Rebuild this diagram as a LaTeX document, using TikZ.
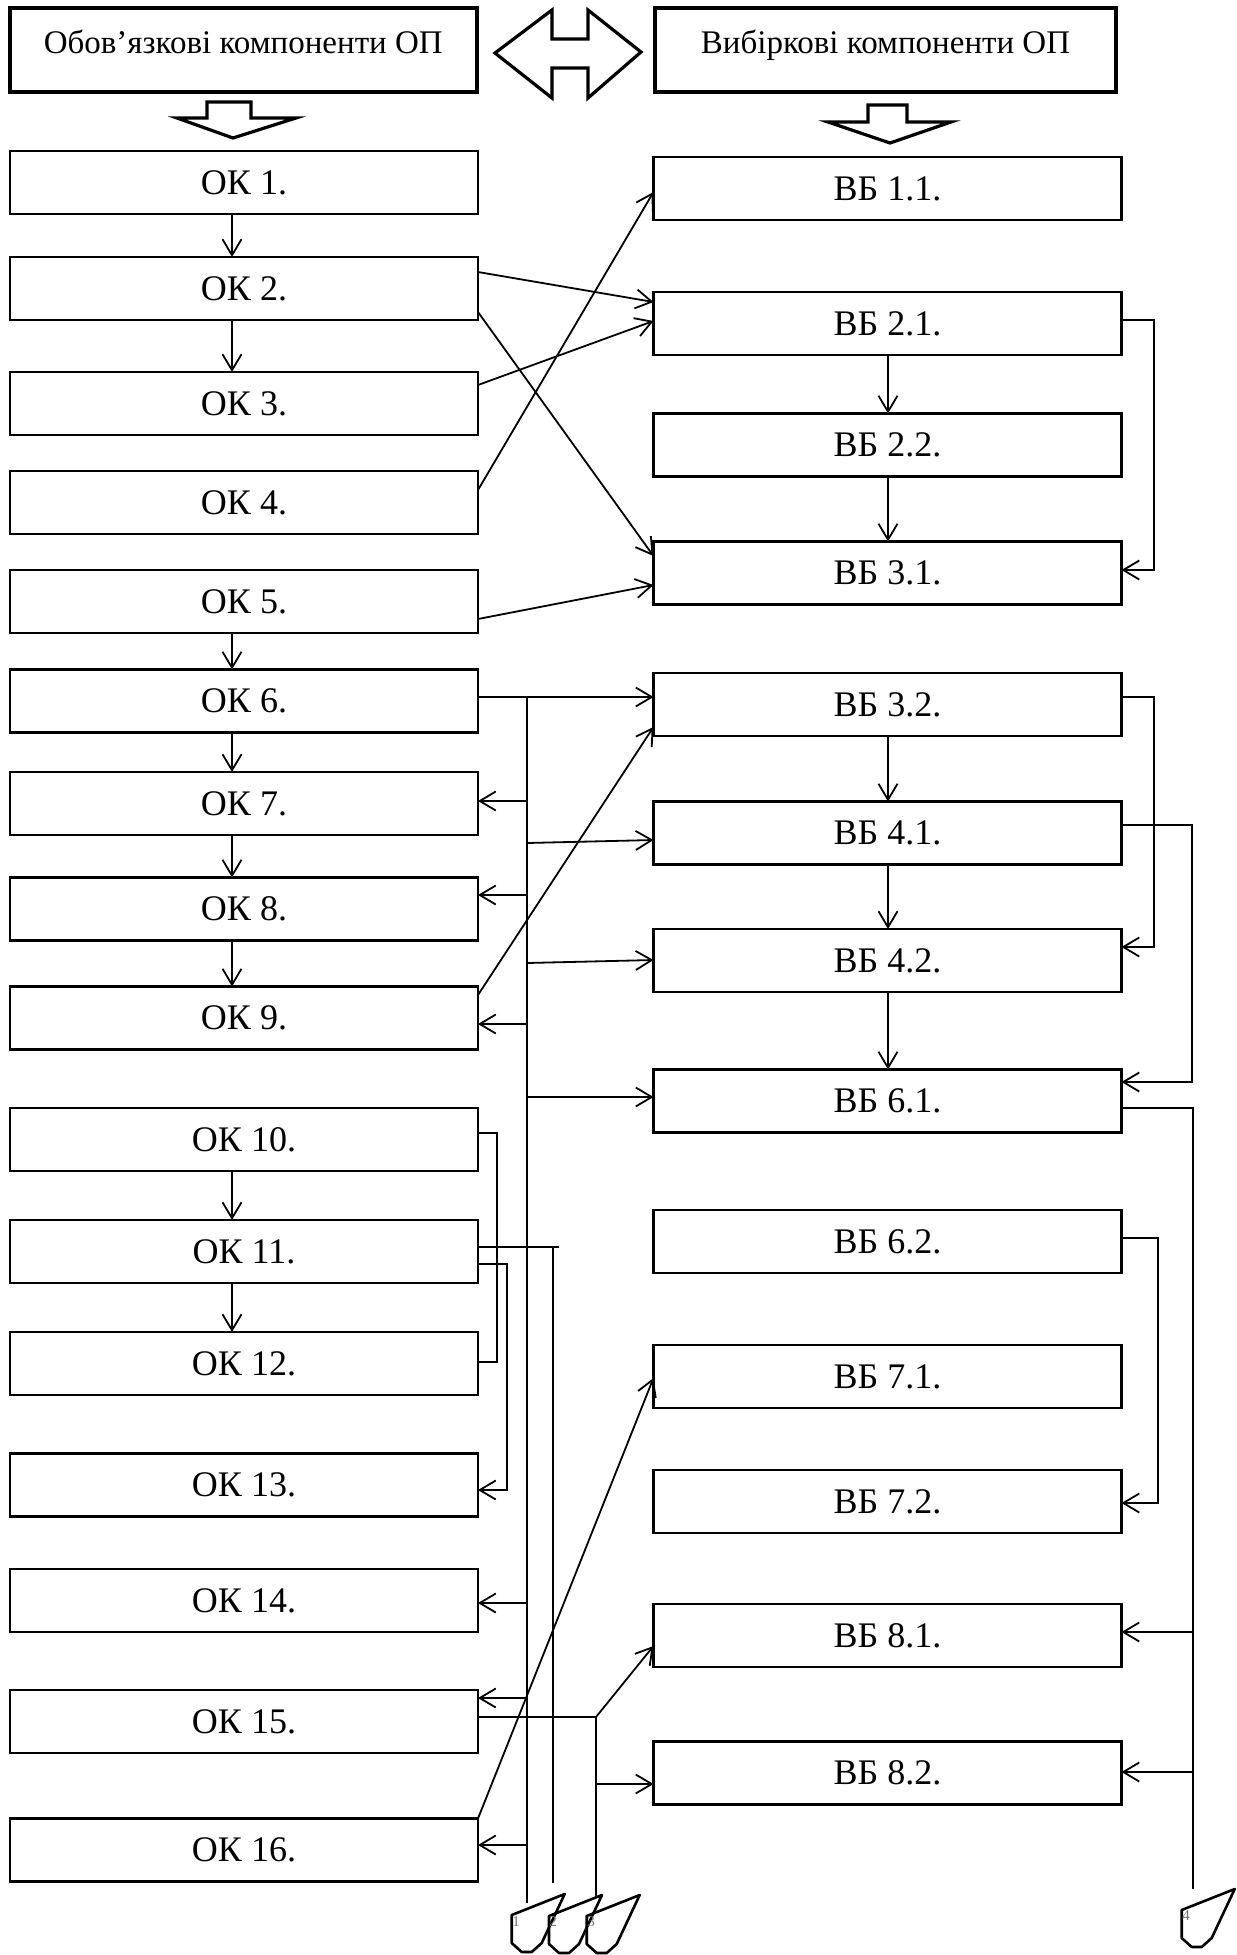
\documentclass[tikz,border=0pt]{standalone}
\usepackage{fontspec}
\setmainfont{Liberation Serif}
\usetikzlibrary{arrows.meta}
\begin{document}
\begin{tikzpicture}[x=0.5pt,y=-0.5pt,
  okbox/.style={draw, line width=1.1pt, minimum width=234pt, minimum height=31.5pt, inner sep=0pt, outer sep=0pt, font=\fontsize{18}{20}\selectfont, text depth=0pt},
  headbox/.style={draw, line width=2pt, minimum height=42pt, inner sep=0pt, outer sep=0pt, font=\fontsize{16.5}{18}\selectfont, text depth=8pt},
  conn/.style={line width=0.9pt},
  arr/.style={conn, -{Straight Barb[length=8pt,width=9.5pt,line width=0.9pt]}},
  blockarrow/.style={line width=1.6pt, line join=miter},
  offlabel/.style={font=\fontsize{7.5}{8}\selectfont, text=black!55, inner sep=0pt},
  offpg/.pic={\draw[line width=1.3pt, line join=round] (0,0) -- (53,-21) -- (30,28) -- (20,37) -- (10,37) -- (0,28) -- cycle;}
]
\useasboundingbox (0,0) rectangle (1237,1955);

% headers
\node[headbox, minimum width=233.75pt] (hl) at (243.25,50) {Обов’язкові компоненти ОП};
\node[headbox, minimum width=230.5pt] (hr) at (885.5,50) {Вибіркові компоненти ОП};
\draw[blockarrow] (495,53) -- (552,10) -- (552,39) -- (588,39) -- (588,10) -- (641,52) -- (588,98) -- (588,68) -- (552,68) -- (552,98) -- cycle;
\draw[blockarrow] (207,102) -- (251,102) -- (251,118) -- (296,118) -- (233,138) -- (177,118) -- (207,118) -- cycle;
\draw[blockarrow] (868,105) -- (907,105) -- (907,122) -- (951,122) -- (890,143) -- (828,122) -- (868,122) -- cycle;

% left column
\node[okbox] (ok1) at (244,182.5) {ОК 1.};
\node[okbox] (ok2) at (244,288.5) {ОК 2.};
\node[okbox] (ok3) at (244,403.5) {ОК 3.};
\node[okbox] (ok4) at (244,502.5) {ОК 4.};
\node[okbox] (ok5) at (244,601.5) {ОК 5.};
\node[okbox] (ok6) at (244,701) {ОК 6.};
\node[okbox] (ok7) at (244,803.5) {ОК 7.};
\node[okbox] (ok8) at (244,909) {ОК 8.};
\node[okbox] (ok9) at (244,1018) {ОК 9.};
\node[okbox] (ok10) at (244,1139.5) {ОК 10.};
\node[okbox] (ok11) at (244,1251.5) {ОК 11.};
\node[okbox] (ok12) at (244,1363.5) {ОК 12.};
\node[okbox] (ok13) at (244,1485) {ОК 13.};
\node[okbox] (ok14) at (244,1600.5) {ОК 14.};
\node[okbox] (ok15) at (244,1721.5) {ОК 15.};
\node[okbox] (ok16) at (244,1850) {ОК 16.};

% right column
\node[okbox] (vb11) at (887.5,188.5) {ВБ 1.1.};
\node[okbox] (vb21) at (887.5,323.5) {ВБ 2.1.};
\node[okbox] (vb22) at (887.5,445) {ВБ 2.2.};
\node[okbox] (vb31) at (887.5,573) {ВБ 3.1.};
\node[okbox] (vb32) at (887.5,704.5) {ВБ 3.2.};
\node[okbox] (vb41) at (887.5,833) {ВБ 4.1.};
\node[okbox] (vb42) at (887.5,960.5) {ВБ 4.2.};
\node[okbox] (vb61) at (887.5,1101) {ВБ 6.1.};
\node[okbox] (vb62) at (887.5,1241.5) {ВБ 6.2.};
\node[okbox] (vb71) at (887.5,1376.5) {ВБ 7.1.};
\node[okbox] (vb72) at (887.5,1501.5) {ВБ 7.2.};
\node[okbox] (vb81) at (887.5,1635.5) {ВБ 8.1.};
\node[okbox] (vb82) at (887.5,1773) {ВБ 8.2.};

% vertical arrows
\foreach \a/\b in {ok1/ok2,ok2/ok3,ok5/ok6,ok6/ok7,ok7/ok8,ok8/ok9,ok10/ok11,ok11/ok12}
  \draw[arr] (\a.south -| 232,0) -- (\b.north -| 232,0);
\foreach \a/\b in {vb21/vb22,vb22/vb31,vb32/vb41,vb41/vb42,vb42/vb61}
  \draw[arr] (\a.south -| 888,0) -- (\b.north -| 888,0);

% diagonals
\draw[arr] (ok2.east |- 0,272) -- (vb21.west |- 0,302);
\draw[arr] (ok2.east |- 0,312) -- (vb31.west |- 0,556);
\draw[arr] (ok3.east |- 0,385) -- (vb21.west |- 0,321);
\draw[arr] (ok4.east |- 0,490) -- (vb11.west |- 0,192);
\draw[arr] (ok5.east |- 0,619) -- (vb31.west |- 0,585);
\draw[arr] (ok6.east |- 0,697) -- (vb32.west |- 0,697);
\draw[arr] (ok9.east |- 0,995) -- (vb32.west |- 0,727);
\draw[arr] (ok16.north east) -- (vb71.west |- 0,1378);

% bus 1
\coordinate (b1t) at (527,697);
\coordinate (b1e) at (527,1903);
\draw[conn] (b1t) -- (b1e);
\draw[arr] (b1t |- 0,801) -- (ok7.east |- 0,801);
\draw[arr] (b1t |- 0,843) -- (vb41.west |- 0,840);
\draw[arr] (b1t |- 0,895) -- (ok8.east |- 0,895);
\draw[arr] (b1t |- 0,963) -- (vb42.west |- 0,960);
\draw[arr] (b1t |- 0,1024) -- (ok9.east |- 0,1024);
\draw[arr] (b1t |- 0,1097) -- (vb61.west |- 0,1097);
\draw[arr] (b1t |- 0,1603) -- (ok14.east |- 0,1603);
\draw[arr] (b1t |- 0,1698) -- (ok15.east |- 0,1698);
\draw[arr] (b1t |- 0,1845) -- (ok16.east |- 0,1845);

% OK 10 - 13
\draw[conn] (ok10.east |- 0,1133) -| (497,1362) -- (ok12.east |- 0,1362);
\coordinate (b2t) at (553,1247);
\coordinate (b2e) at (553,1883);
\draw[conn] (ok11.east |- 0,1247) -- (559,1247);
\draw[conn] (b2t) -- (b2e);
\draw[arr] (ok11.east |- 0,1264) -| (507,1490) -- (ok13.east |- 0,1490);

% OK 15
\coordinate (b3t) at (596,1717);
\coordinate (b3e) at (596,1897);
\draw[conn] (ok15.east |- 0,1717) -- (b3t) -- (b3e);
\draw[arr] (b3t) -- (vb81.west |- 0,1646);
\draw[arr] (b3t |- 0,1784) -- (vb82.west |- 0,1784);

% right loops
\draw[arr] (vb21.east |- 0,320) -| (1154,570) -- (vb31.east |- 0,570);
\draw[arr] (vb32.east |- 0,697) -| (1154,947) -- (vb42.east |- 0,947);
\draw[arr] (vb41.east |- 0,825) -| (1192,1082) -- (vb61.east |- 0,1082);
\draw[arr] (vb62.east |- 0,1238) -| (1158,1503) -- (vb72.east |- 0,1503);
\coordinate (b4t) at (1193,1108);
\coordinate (b4e) at (1193,1889);
\draw[conn] (vb61.east |- 0,1108) -- (b4t) -- (b4e);
\draw[arr] (b4t |- 0,1632) -- (vb81.east |- 0,1632);
\draw[arr] (b4t |- 0,1772) -- (vb82.east |- 0,1772);

% off-page connectors
\pic at (511.7,1915) {offpg};
\pic at (549,1916) {offpg};
\pic at (586.7,1916) {offpg};
\pic at (1181.7,1910) {offpg};
\node[offlabel] (l1) at (516,1922) {1};
\node[offlabel] (l2) at (553,1922) {2};
\node[offlabel] (l3) at (591,1922) {3};
\node[offlabel] (l4) at (1186,1916) {4};
\end{tikzpicture}
\end{document}
